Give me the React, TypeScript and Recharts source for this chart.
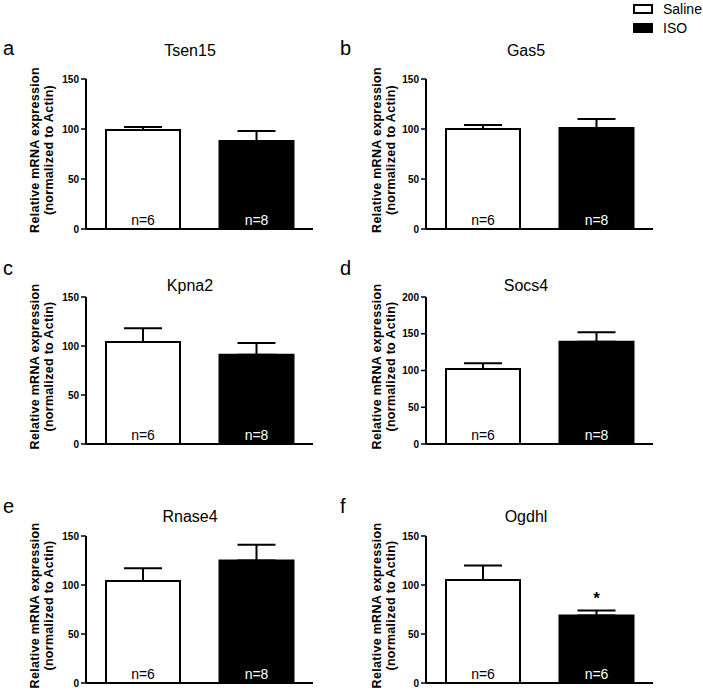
import React from "react";
import {
  Bar,
  BarChart,
  Cell,
  ErrorBar,
  LabelList,
  XAxis,
  YAxis,
} from "recharts";

const GENES = ["Tsen15", "Gas5", "Kpna2", "Socs4", "Rnase4", "Ogdhl"];
const LETTERS = ["a", "b", "c", "d", "e", "f"];
const GROUPS = ["Saline", "ISO"];
const SALINE_MEAN = [99, 100, 104, 102, 104, 105];
const SALINE_SEM = [3, 4, 14, 8, 13, 15];
const ISO_MEAN = [88, 101, 91, 139, 125, 69];
const ISO_SEM = [10, 9, 12, 13, 16, 5];
const SALINE_N = [6, 6, 6, 6, 6, 6];
const ISO_N = [8, 8, 8, 8, 8, 6];
const Y_MAX = [150, 150, 150, 200, 150, 150];
const Y_TICKS = [
  [0, 50, 100, 150],
  [0, 50, 100, 150],
  [0, 50, 100, 150],
  [0, 50, 100, 150, 200],
  [0, 50, 100, 150],
  [0, 50, 100, 150],
];
const SIG = ["", "", "", "", "", "*"];
const FILLS = ["#ffffff", "#000000"];

// page layout (pixels)
const COLS = [
  { left: 0, titleX: 190, letterX: 3, label1X: 35, label2X: 49 },
  { left: 340, titleX: 526, letterX: 340, label1X: 377, label2X: 391 },
];
const ROWS = [
  { top: 79, bottom: 229, titleY: 56, letterY: 55 },
  { top: 297, bottom: 444, titleY: 291, letterY: 275 },
  { top: 536, bottom: 683, titleY: 522, letterY: 513 },
];
const CHART_W = 330;
const FONT = "'Liberation Sans', Arial, sans-serif";

function NLabel(props: any) {
  const x = Number(props.x);
  const y = Number(props.y);
  const w = Number(props.width);
  const h = Number(props.height);
  return (
    <text
      x={x + w / 2}
      y={y + h - 4}
      textAnchor="middle"
      fontSize={14}
      fontFamily={FONT}
      fill={props.index === 1 ? "#fff" : "#000"}
    >
      {props.value}
    </text>
  );
}

function SigLabel(props: any) {
  if (!props.value) return null;
  const x = Number(props.x);
  const y = Number(props.y);
  const w = Number(props.width);
  return (
    <text
      x={x + w / 2}
      y={y - 11}
      textAnchor="middle"
      fontSize={17}
      fontWeight="bold"
      fontFamily={FONT}
      fill="#000"
    >
      {props.value}
    </text>
  );
}

function Panel({ i }: { i: number }) {
  const col = COLS[i % 2];
  const row = ROWS[Math.floor(i / 2)];
  const data = GROUPS.map((g, k) => ({
    group: g,
    mean: k === 0 ? SALINE_MEAN[i] : ISO_MEAN[i],
    err: [0, k === 0 ? SALINE_SEM[i] : ISO_SEM[i]],
    n: `n=${k === 0 ? SALINE_N[i] : ISO_N[i]}`,
    sig: k === 1 ? SIG[i] : "",
  }));
  const height = row.bottom - row.top + 15;
  return (
    <div style={{ position: "absolute", left: col.left, top: row.top - 10 }}>
      <BarChart
        width={CHART_W}
        height={height}
        data={data}
        margin={{ top: 10, right: 17, left: 0, bottom: 4 }}
      >
        <XAxis
          dataKey="group"
          tick={false}
          tickLine={false}
          height={1}
          axisLine={{ stroke: "#000", strokeWidth: 2 }}
        />
        <YAxis
          width={86}
          domain={[0, Y_MAX[i]]}
          ticks={Y_TICKS[i]}
          interval={0}
          tickSize={5}
          tickLine={{ stroke: "#000", strokeWidth: 1.5 }}
          axisLine={{ stroke: "#000", strokeWidth: 2 }}
          tick={{ fontSize: 10, fontWeight: "bold", fill: "#000", fontFamily: FONT }}
        />
        <Bar
          dataKey="mean"
          barSize={74}
          stroke="#000"
          strokeWidth={2}
          isAnimationActive={false}
        >
          {data.map((d, k) => (
            <Cell key={d.group} fill={FILLS[k]} />
          ))}
          <ErrorBar
            dataKey="err"
            direction="y"
            width={19}
            stroke="#000"
            strokeWidth={2}
            isAnimationActive={false}
          />
          <LabelList dataKey="n" content={NLabel} />
          <LabelList dataKey="sig" content={SigLabel} />
        </Bar>
      </BarChart>
    </div>
  );
}

function Overlay() {
  return (
    <svg
      width={703}
      height={691}
      style={{ position: "absolute", left: 0, top: 0, pointerEvents: "none" }}
      fontFamily={FONT}
    >
      {/* legend */}
      <rect x={634} y={5} width={18} height={8} fill="#fff" stroke="#000" strokeWidth={2} />
      <text x={663} y={14} fontSize={14} fill="#000">
        {GROUPS[0]}
      </text>
      <rect x={633} y={23} width={20} height={10} fill="#000" />
      <text x={663} y={33} fontSize={14} fill="#000">
        {GROUPS[1]}
      </text>
      {GENES.map((gene, i) => {
        const col = COLS[i % 2];
        const row = ROWS[Math.floor(i / 2)];
        const cy = (row.top + row.bottom) / 2 - 4;
        return (
          <g key={gene}>
            <text x={col.letterX} y={row.letterY} fontSize={20} fill="#000">
              {LETTERS[i]}
            </text>
            <text x={col.titleX} y={row.titleY} fontSize={16} textAnchor="middle" fill="#000">
              {gene}
            </text>
            <text
              x={col.label1X}
              y={cy}
              transform={`rotate(-90 ${col.label1X} ${cy})`}
              textAnchor="middle"
              dominantBaseline="central"
              fontSize={12.5}
              fontWeight="bold"
              letterSpacing={0.3}
              fill="#000"
            >
              Relative mRNA expression
            </text>
            <text
              x={col.label2X}
              y={cy}
              transform={`rotate(-90 ${col.label2X} ${cy})`}
              textAnchor="middle"
              dominantBaseline="central"
              fontSize={12.5}
              fontWeight="bold"
              letterSpacing={0.3}
              fill="#000"
            >
              (normalized to Actin)
            </text>
          </g>
        );
      })}
    </svg>
  );
}

export default function App() {
  return (
    <div
      style={{
        position: "absolute",
        left: 0,
        top: 0,
        width: 703,
        height: 691,
        background: "#fff",
        fontFamily: FONT,
      }}
    >
      {GENES.map((g, i) => (
        <Panel key={g} i={i} />
      ))}
      <Overlay />
    </div>
  );
}
